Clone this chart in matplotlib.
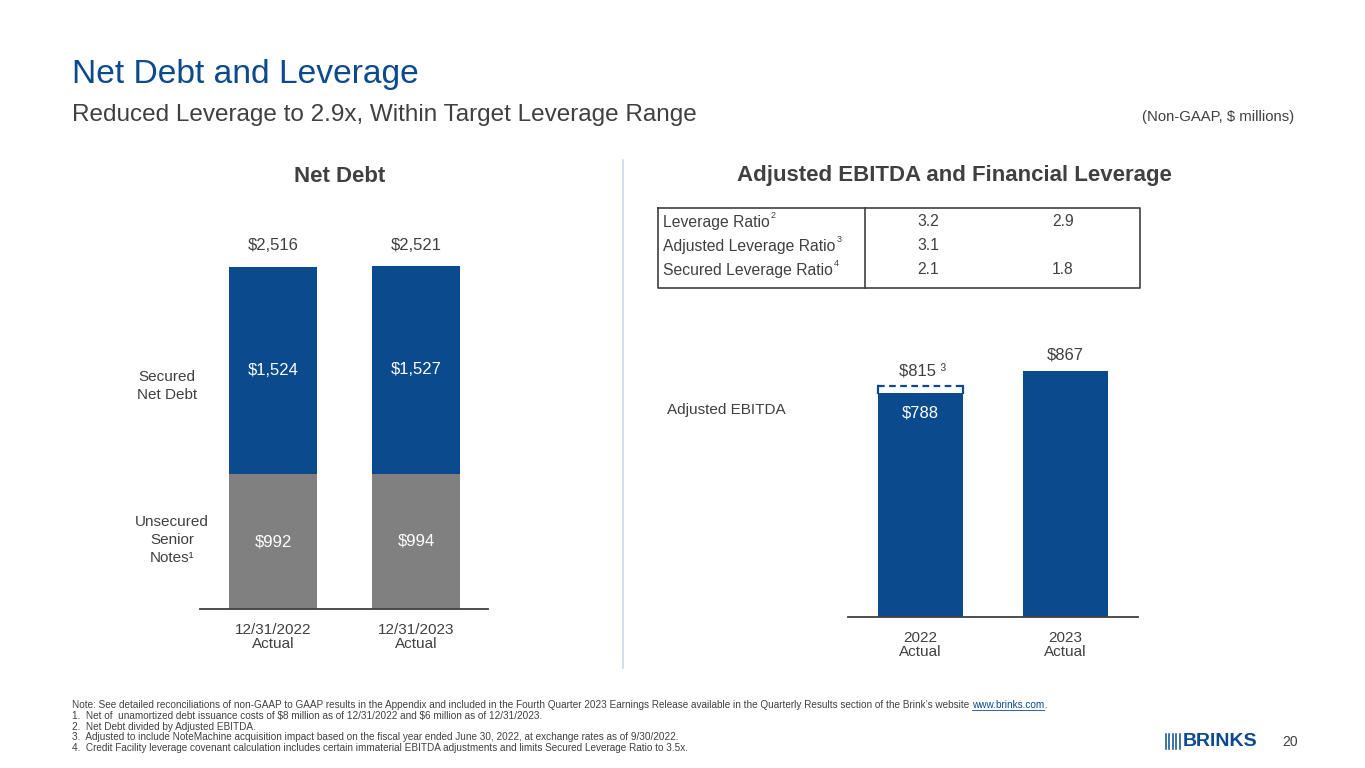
import numpy as np
import matplotlib
matplotlib.use('Agg')
import matplotlib.pyplot as plt

plt.rcParams['font.family'] = ['Liberation Sans', 'DejaVu Sans']

# ---- data ----
debt_dates = ['12/31/2022\nActual', '12/31/2023\nActual']
unsecured_notes = [992, 994]
secured_debt = [1524, 1527]
net_debt = [2516, 2521]

ebitda_years = ['2022\nActual', '2023\nActual']
ebitda = [788, 867]
ebitda_adjusted_2022 = 815

ratio_names = ['Leverage Ratio', 'Adjusted Leverage Ratio', 'Secured Leverage Ratio']
ratio_notes = ['2', '3', '4']
ratio_2022 = ['3.2', '3.1', '2.1']
ratio_2023 = ['2.9', '', '1.8']

notes = [
    '1.  Net of  unamortized debt issuance costs of \\$8 million as of 12/31/2022 and \\$6 million as of 12/31/2023.',
    '2.  Net Debt divided by Adjusted EBITDA.',
    '3.  Adjusted to include NoteMachine acquisition impact based on the fiscal year ended June 30, 2022, at exchange rates as of 9/30/2022.',
    '4.  Credit Facility leverage covenant calculation includes certain immaterial EBITDA adjustments and limits Secured Leverage Ratio to 3.5x.',
]

BLUE = '#0C4A8E'
GRAY = '#808080'
DARK = '#404040'
W, H = 1365, 768

fig = plt.figure(figsize=(W / 100, H / 100), dpi=100)

# overlay in pixel coordinates for slide text
ov = fig.add_axes([0, 0, 1, 1])
ov.set_xlim(0, W)
ov.set_ylim(H, 0)
ov.axis('off')


def right_edge(t):
    fig.canvas.draw()
    return t.get_window_extent(renderer=fig.canvas.get_renderer()).x1


ov.text(72, 75, 'Net Debt and Leverage', fontsize=24.2, color=BLUE, va='center')
ov.text(72, 115, 'Reduced Leverage to 2.9x, Within Target Leverage Range', fontsize=17.5,
        color=DARK, va='center')
ov.text(1294, 117, '(Non-GAAP, \\$ millions)', fontsize=10.7, color=DARK, va='center', ha='right')

ov.text(340, 176, 'Net Debt', fontsize=16, fontweight='bold', color=DARK, ha='center', va='center')
ov.text(954, 176, 'Adjusted EBITDA and Financial Leverage', fontsize=16, fontweight='bold',
        color=DARK, ha='center', va='center')

ov.plot([623, 623], [160, 668], color='#C9D6E8', lw=1.2)

ov.text(167, 386, 'Secured\nNet Debt', fontsize=11, color=DARK, ha='center', va='center',
        linespacing=1.4)
ov.text(172, 540, 'Unsecured\nSenior\nNotes\u00b9', fontsize=11, color=DARK, ha='center',
        va='center', linespacing=1.4)
ov.text(667, 410, 'Adjusted EBITDA', fontsize=11, color=DARK, va='center')

# leverage table
ov.plot([658, 1140, 1140, 658, 658], [208, 208, 288, 288, 208], color=DARK, lw=1.2)
ov.plot([865, 865], [208, 288], color=DARK, lw=1.2)
for i, name in enumerate(ratio_names):
    y = 222 + i * 24
    t = ov.text(663, y, name, fontsize=11.3, color=DARK, va='center')
    ov.text(right_edge(t) + 1, y - 6, ratio_notes[i], fontsize=6.5, color=DARK, va='center')
    ov.text(928, y, ratio_2022[i], fontsize=11.3, color=DARK, va='center', ha='center')
    ov.text(1063, y, ratio_2023[i], fontsize=11.3, color=DARK, va='center', ha='center')

# footnotes
fs_note = 7.2
note0 = ov.text(72, 705, 'Note: See detailed reconciliations of non-GAAP to GAAP results in the Appendix '
                'and included in the Fourth Quarter 2023 Earnings Release available in the Quarterly '
                'Results section of the Brink\u2019s website ', fontsize=fs_note, color=DARK, va='center')
for i, n in enumerate(notes):
    ov.text(72, 716 + i * 10.7, n, fontsize=fs_note, color=DARK, va='center')
x_link = right_edge(note0)
link = ov.text(x_link, 705, 'www.brinks.com', fontsize=fs_note, color=BLUE, va='center')
x_end = right_edge(link)
ov.plot([x_link, x_end], [710, 710], color=BLUE, lw=0.6)
ov.text(x_end, 705, '.', fontsize=fs_note, color=DARK, va='center')

# logo and page number
for k in range(5):
    ov.plot([1166 + k * 3.4, 1166 + k * 3.4], [734, 749], color=BLUE, lw=1.1)
ov.text(1183, 742, 'BRINKS', fontsize=14, fontweight='bold', color=BLUE, va='center')
ov.text(1290, 742, '20', fontsize=10, color=DARK, va='center', ha='center')

# ---- Net Debt stacked bars ----
ax1 = fig.add_axes([200 / W, (H - 609) / H, 288 / W, 408 / H])
ax1.patch.set_alpha(0)
x1 = np.arange(len(debt_dates))
bw1 = 0.61
ax1.bar(x1, unsecured_notes, width=bw1, color=GRAY)
ax1.bar(x1, secured_debt, width=bw1, bottom=unsecured_notes, color=BLUE)
for i in range(len(x1)):
    ax1.text(x1[i], unsecured_notes[i] / 2, '\\$%s' % format(unsecured_notes[i], ','),
             color='white', fontsize=12, ha='center', va='center')
    ax1.text(x1[i], unsecured_notes[i] + secured_debt[i] / 2, '\\$%s' % format(secured_debt[i], ','),
             color='white', fontsize=12, ha='center', va='center')
    ax1.annotate('\\$%s' % format(net_debt[i], ','), (x1[i], net_debt[i]), xytext=(0, 15),
                 textcoords='offset points', ha='center', va='center', fontsize=12, color=DARK)
ax1.set_xlim(-0.51, 1.503)
ax1.set_ylim(0, 3000)

# ---- Adjusted EBITDA bars ----
ax2 = fig.add_axes([848 / W, (H - 617) / H, 290 / W, 284 / H])
ax2.patch.set_alpha(0)
x2 = np.arange(len(ebitda_years))
bw2 = 0.586
ax2.bar(x2, ebitda, width=bw2, color=BLUE)
ax2.annotate('\\$%d' % ebitda[0], (x2[0], ebitda[0]), xytext=(0, -14), textcoords='offset points',
             ha='center', va='center', fontsize=12, color='white')
ax2.annotate('\\$%d' % ebitda[1], (x2[1], ebitda[1]), xytext=(0, 11), textcoords='offset points',
             ha='center', va='center', fontsize=12, color=DARK)
# dashed adjusted level for 2022
xl, xr = x2[0] - bw2 / 2, x2[0] + bw2 / 2
ax2.plot([xl, xr], [ebitda_adjusted_2022] * 2, color=BLUE, lw=1.6, ls=(0, (3, 2)))
ax2.plot([xl, xl], [ebitda[0], ebitda_adjusted_2022], color=BLUE, lw=1.6)
ax2.plot([xr, xr], [ebitda[0], ebitda_adjusted_2022], color=BLUE, lw=1.6)
ax2.annotate('\\$%d \u00b3' % ebitda_adjusted_2022, (x2[0], ebitda_adjusted_2022), xytext=(2, 10),
             textcoords='offset points', ha='center', va='center', fontsize=12, color=DARK)
ax2.set_xlim(-0.497, 1.497)
ax2.set_ylim(0, 1000)

for ax, labels in ((ax1, debt_dates), (ax2, ebitda_years)):
    for s in ('top', 'left', 'right'):
        ax.spines[s].set_visible(False)
    ax.spines['bottom'].set_color(DARK)
    ax.spines['bottom'].set_linewidth(1.3)
    ax.set_yticks([])
    ax.set_xticks(range(len(labels)))
    ax.set_xticklabels(labels, fontsize=11, color=DARK, linespacing=1.05)
    ax.tick_params(axis='x', length=0, pad=10)

fig.savefig('out.png', dpi=100)
